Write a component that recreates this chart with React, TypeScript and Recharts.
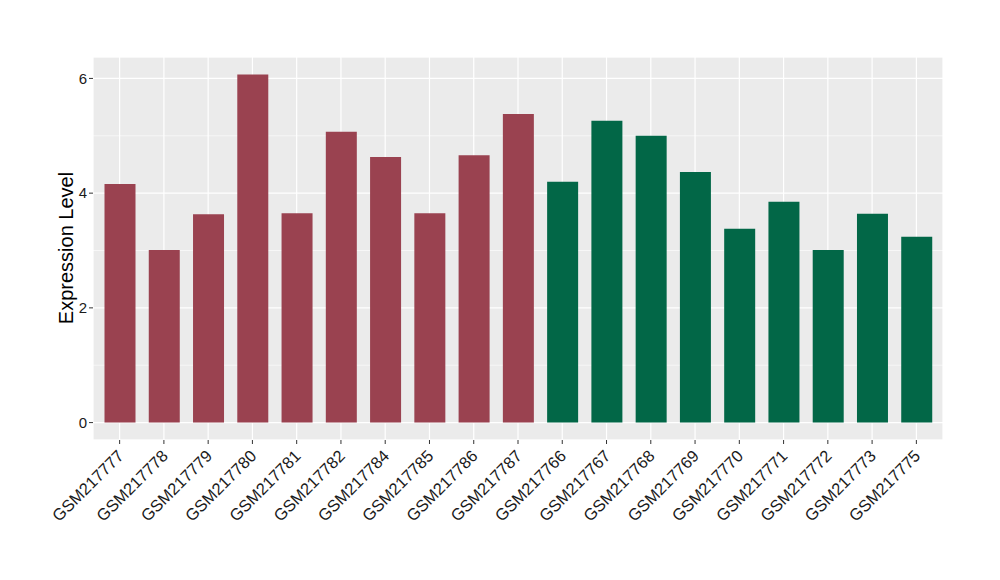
import {
  BarChart,
  Bar,
  Cell,
  XAxis,
  YAxis,
  CartesianGrid,
  Label,
} from "recharts";

const samples = [
  "GSM217777", "GSM217778", "GSM217779", "GSM217780", "GSM217781",
  "GSM217782", "GSM217784", "GSM217785", "GSM217786", "GSM217787",
  "GSM217766", "GSM217767", "GSM217768", "GSM217769", "GSM217770",
  "GSM217771", "GSM217772", "GSM217773", "GSM217775",
];

const expression = [
  4.16, 3.01, 3.63, 6.07, 3.65, 5.07, 4.63, 3.65, 4.66, 5.38,
  4.2, 5.26, 5.0, 4.37, 3.38, 3.85, 3.01, 3.64, 3.24,
];

const groups = [
  "a", "a", "a", "a", "a", "a", "a", "a", "a", "a",
  "b", "b", "b", "b", "b", "b", "b", "b", "b",
];

const groupColors: Record<string, string> = { a: "#9A4250", b: "#026747" };

const majorTicks = [0, 2, 4, 6];
const minorTicks = [1, 3, 5];
const yDomain = [-0.3035, 6.3735];

const data = samples.map((s, i) => ({ sample: s, value: expression[i], group: groups[i] }));

const font = "'Liberation Sans', Arial, sans-serif";

function XTick({ x, y, payload }: any) {
  const tx = x + 5;
  const ty = y + 11;
  return (
    <text
      x={tx}
      y={ty}
      transform={`rotate(-45 ${tx} ${ty})`}
      textAnchor="end"
      fontSize={16.5}
      fontFamily={font}
      fill="#1a1a1a"
    >
      {payload.value}
    </text>
  );
}

function YTitle() {
  return (
    <text
      x={58}
      y={240}
      transform="rotate(-90 58 240)"
      textAnchor="middle"
      dominantBaseline="central"
      fontSize={20}
      fontFamily={font}
      fill="#000"
    >
      Expression Level
    </text>
  );
}

export default function App() {
  return (
    <BarChart
      width={992}
      height={572}
      data={data}
      margin={{ top: 49, right: 57, bottom: 10, left: 0 }}
    >
      <CartesianGrid
        yAxisId="main"
        fill="#EBEBEB"
        stroke="#FFFFFF"
        strokeWidth={1.2}
      />
      <CartesianGrid
        yAxisId="minor"
        vertical={false}
        stroke="#FFFFFF"
        strokeWidth={0.6}
      />
      <XAxis
        dataKey="sample"
        interval={0}
        height={130}
        padding={{ left: 4.5, right: 4.5 }}
        axisLine={false}
        tickSize={4}
        tickLine={{ stroke: "#333" }}
        tick={<XTick />}
      />
      <YAxis
        yAxisId="main"
        width={85}
        type="number"
        domain={yDomain}
        ticks={majorTicks}
        allowDataOverflow
        axisLine={false}
        tickSize={4}
        tickMargin={2}
        tickLine={{ stroke: "#333" }}
        tick={{ fontSize: 15, fill: "#1a1a1a", fontFamily: font }}
      >
        <Label content={<YTitle />} />
      </YAxis>
      <YAxis
        yAxisId="minor"
        hide
        type="number"
        domain={yDomain}
        ticks={minorTicks}
        allowDataOverflow
      />
      <Bar yAxisId="main" dataKey="value" barSize={31} isAnimationActive={false}>
        {data.map((d, i) => (
          <Cell key={i} fill={groupColors[d.group]} />
        ))}
      </Bar>
    </BarChart>
  );
}
